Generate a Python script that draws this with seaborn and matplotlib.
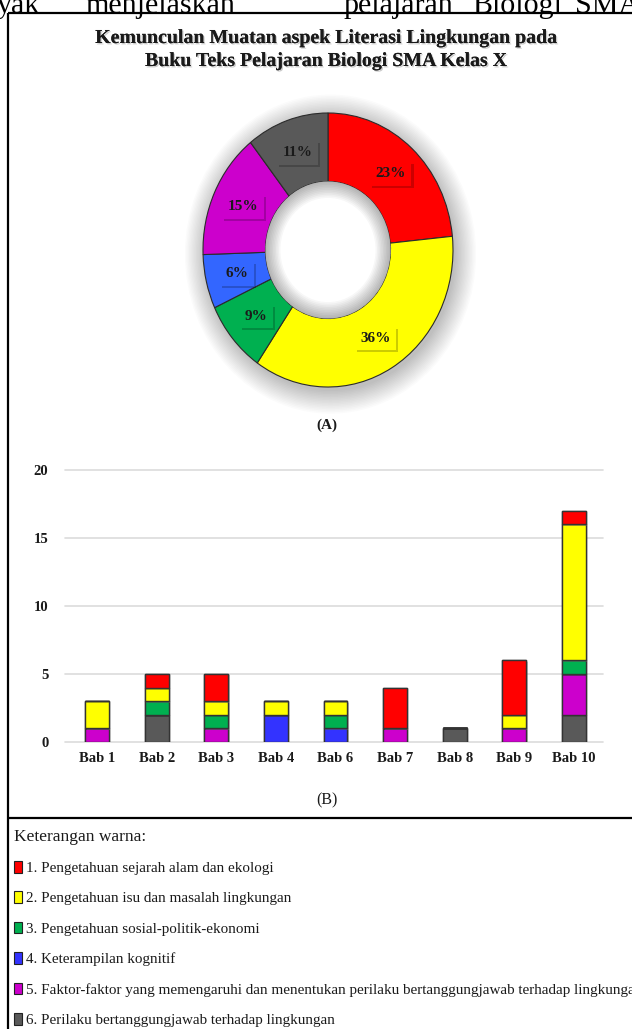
import numpy as np
import pandas as pd
import matplotlib
matplotlib.use("Agg")
import matplotlib.pyplot as plt
import matplotlib.patheffects as pe
from matplotlib.lines import Line2D
from matplotlib.patches import Ellipse, Wedge, Patch
import seaborn as sns

# ---------------------------------------------------------------- data
chapters = ["Bab 1", "Bab 2", "Bab 3", "Bab 4", "Bab 6", "Bab 7", "Bab 8", "Bab 9", "Bab 10"]
aspects = [
    "1. Pengetahuan sejarah alam dan ekologi",
    "2. Pengetahuan isu dan masalah lingkungan",
    "3. Pengetahuan sosial-politik-ekonomi",
    "4. Keterampilan kognitif",
    "5. Faktor-faktor yang memengaruhi dan menentukan perilaku bertanggungjawab terhadap lingkungan",
    "6. Perilaku bertanggungjawab terhadap lingkungan",
]
# number of occurrences of each aspect per chapter
sejarah_alam = [0, 1, 2, 0, 0, 3, 0, 4, 1]
isu_masalah = [2, 1, 1, 1, 1, 0, 0, 1, 10]
sosial_politik = [0, 1, 1, 0, 1, 0, 0, 0, 1]
kognitif = [0, 0, 0, 2, 1, 0, 0, 0, 0]
faktor_perilaku = [1, 0, 1, 0, 0, 1, 0, 1, 3]
perilaku = [0, 2, 0, 0, 0, 0, 1, 0, 2]
y_ticks = [0, 5, 10, 15, 20]

title_lines = ["Kemunculan Muatan aspek Literasi Lingkungan pada",
               "Buku Teks Pelajaran Biologi SMA Kelas X"]
legend_title = "Keterangan warna:"
body_words = ["yak", "menjelaskan", "pelajaran", "Biologi", "SMA"]

series = [sejarah_alam, isu_masalah, sosial_politik, kognitif, faktor_perilaku, perilaku]
bar_colors = ["#FF0000", "#FFFF00", "#00B050", "#3333FF", "#CC00CC", "#595959"]
ring_colors = ["#FF0000", "#FFFF00", "#00B050", "#3366FF", "#CC00CC", "#595959"]

# ---------------------------------------------------------------- style
sns.set_theme(style="white")
plt.rcParams["font.family"] = ["Liberation Serif", "DejaVu Serif"]

W, H = 632, 1029
fig = plt.figure(figsize=(W / 100, H / 100), dpi=100)
fig.patch.set_facecolor("white")


def fx(px):
    return px / W


def fy(py):
    return 1 - py / H


# running text of the page above the frame (cut by the top edge)
for word, x0 in zip(body_words, [-3, 85, 343, 472, 575]):
    fig.text(fx(x0), fy(13), word, fontsize=21.6, va="baseline", ha="left",
             color="black")

# frame lines
frame_kw = dict(color="black", lw=1.6, solid_capstyle="butt")
fig.add_artist(Line2D([fx(8), 1], [fy(13), fy(13)], **frame_kw))
fig.add_artist(Line2D([fx(8), fx(8)], [0, fy(13)], **frame_kw))
fig.add_artist(Line2D([fx(8), 1], [fy(818), fy(818)], **frame_kw))

# title
shadow = [pe.withSimplePatchShadow(offset=(1, -1), shadow_rgbFace="#999999", alpha=0.5),
          pe.Normal()]
for line, y in zip(title_lines, [38, 61]):
    fig.text(fx(326), fy(y), line, ha="center", va="center", fontsize=14.3,
             fontweight="bold", color="#1a1a1a", path_effects=shadow)

# ---------------------------------------------------------------- donut (A)
totals = [sum(s) for s in series]
grand = sum(totals)

ax_p = fig.add_axes([fx(203), fy(387), fx(250), 274 / H])
# soft drop shadow behind the ring
for i in range(16):
    r = 1.0 + 0.011 * i
    ax_p.add_patch(Ellipse((0.02, -0.03), 2 * r, 2 * r, fc="black", lw=0,
                           alpha=0.014, zorder=0, clip_on=False))
wedges, _ = ax_p.pie(totals, colors=ring_colors, startangle=90, counterclock=False,
                     radius=1.0,
                     wedgeprops=dict(width=0.5, edgecolor="#2b2b2b", linewidth=0.8))
for w in wedges:
    w.set_clip_on(False)
    w.set_zorder(2)
ax_p.add_patch(Ellipse((0, 0), 1.0, 1.0, fc="white", lw=0, zorder=2.5))
# inner shading of the hole
for i in range(10):
    ax_p.add_patch(Wedge((0, 0), 0.5, 0, 360, width=0.012 * (i + 1), fc="black",
                         lw=0, alpha=0.03, zorder=3))
ax_p.set_aspect("auto")
ax_p.set_xlim(-1, 1)
ax_p.set_ylim(-1, 1)
ax_p.axis("off")

start = 90.0
for val, col in zip(totals, ring_colors):
    sweep = 360.0 * val / grand
    mid = np.deg2rad(start - sweep / 2)
    start -= sweep
    t = ax_p.text(0.75 * np.cos(mid), 0.75 * np.sin(mid), f"{round(100 * val / grand)}%",
                  ha="center", va="center", fontsize=11, fontweight="bold",
                  color="#1a1a1a", zorder=5,
                  bbox=dict(boxstyle="square,pad=0.35", fc=col, ec="none"))
    t.get_bbox_patch().set_path_effects(
        [pe.withSimplePatchShadow(offset=(1.5, -1.5), shadow_rgbFace="black", alpha=0.2),
         pe.Normal()])

fig.text(fx(327), fy(425), "(A)", ha="center", va="center", fontsize=11,
         fontweight="bold", color="#1a1a1a")

# ---------------------------------------------------------------- stacked bars (B)
ax_b = fig.add_axes([fx(65), fy(742), fx(538), 272 / H])
rows = []
for name, vals in zip(aspects, series):
    for ch, v in zip(chapters, vals):
        rows.append({"bab": ch, "aspek": name, "jumlah": v})
df = pd.DataFrame(rows)

bottom = np.zeros(len(chapters))
for idx in range(len(aspects) - 1, -1, -1):
    sub = df[df["aspek"] == aspects[idx]]
    heights = np.array(series[idx], dtype=float)
    sns.barplot(data=sub, x="bab", y="jumlah", order=chapters, color=bar_colors[idx],
                saturation=1, width=0.4, bottom=bottom, edgecolor="#333333",
                linewidth=1.0, errorbar=None, ax=ax_b, zorder=3)
    bottom = bottom + heights

for p in ax_b.patches:
    p.set_path_effects([pe.withSimplePatchShadow(offset=(1, -1), shadow_rgbFace="#888888",
                                                 alpha=0.35), pe.Normal()])

ax_b.set_xlim(-0.54, 8.49)
ax_b.set_ylim(0, 20)
ax_b.set_yticks(y_ticks)
ax_b.set_yticklabels([str(v) for v in y_ticks])
ax_b.grid(axis="y", color="#dcdcdc", lw=1.2, zorder=0)
ax_b.grid(axis="x", visible=False)
for gl in ax_b.get_ygridlines():
    gl.set_clip_on(False)
ax_b.set_axisbelow(True)
sns.despine(ax=ax_b, left=True, bottom=True)
ax_b.tick_params(axis="both", length=0, labelsize=10.5, colors="#1a1a1a")
ax_b.tick_params(axis="y", pad=12)
ax_b.tick_params(axis="x", pad=7)
for lab in ax_b.get_xticklabels() + ax_b.get_yticklabels():
    lab.set_fontweight("bold")
ax_b.set_xlabel("")
ax_b.set_ylabel("")
ax_b.set_facecolor("white")

fig.text(fx(327), fy(800), "(B)", ha="center", va="center", fontsize=11.5,
         color="#1a1a1a")

# ---------------------------------------------------------------- colour key
fig.text(fx(14), fy(837), legend_title, ha="left", va="center", fontsize=12.5,
         color="#1a1a1a")
handles = [Patch(facecolor=c, edgecolor="#222222", linewidth=0.8) for c in bar_colors]
leg = fig.legend(handles, aspects, loc="upper left", bbox_to_anchor=(fx(14), fy(861)),
                 frameon=False, fontsize=10.9,
                 handlelength=0.55, handleheight=0.8,
                 handletextpad=0.25, labelspacing=1.08, borderpad=0, borderaxespad=0)
for txt in leg.get_texts():
    txt.set_color("#1a1a1a")

fig.savefig("out.png", dpi=100, facecolor="white")
